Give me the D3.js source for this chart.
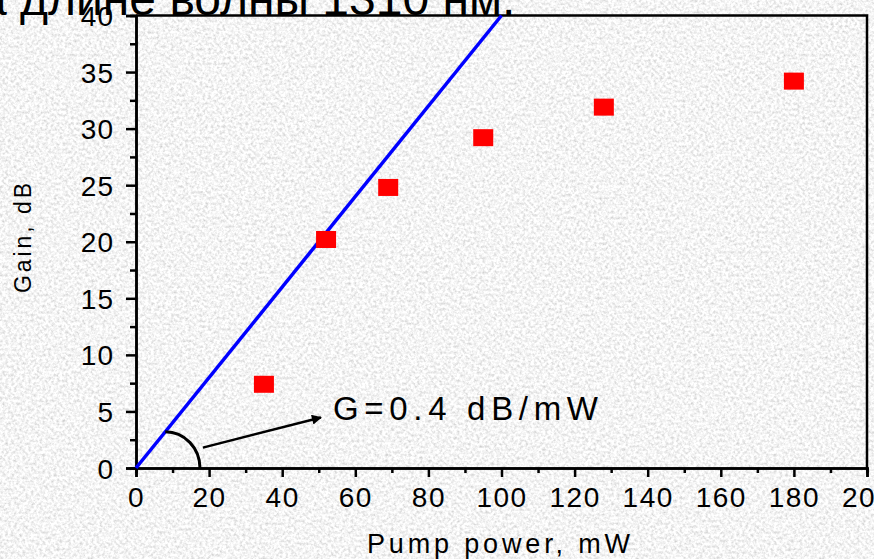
<!DOCTYPE html>
<html>
<head>
<meta charset="utf-8">
<script src="https://cdn.jsdelivr.net/npm/d3@7"></script>
<style>
  html, body { margin: 0; padding: 0; overflow: hidden; }
  svg { display: block; font-family: "Liberation Sans", Arial, sans-serif; }
</style>
</head>
<body>
<div id="js-svg-container"></div>
<script>
// measured points (pump power in mW, gain in dB)
let pumpPower = [35, 52, 69, 95, 128, 180];
let gain = [7.4, 20.2, 24.8, 29.2, 31.9, 34.2];

// linear fit G = 0.4 dB/mW
let fitPower = [0, 100];
let fitGain = [0, 40];

let xMajorTicks = [0, 20, 40, 60, 80, 100, 120, 140, 160, 180, 200];
let xMinorTicks = [10, 30, 50, 70, 90, 110, 130, 150, 170, 190];
let yMajorTicks = [0, 5, 10, 15, 20, 25, 30, 35, 40];
let yMinorTicks = [2.5, 7.5, 12.5, 17.5, 22.5, 27.5, 32.5, 37.5];

let titleText = 'а длине волны 1310 нм.';
let xLabel = 'Pump power, mW';
let yLabel = 'Gain, dB';
let slopeLabel = 'G=0.4 dB/mW';

document.addEventListener('DOMContentLoaded', function() {

    let width = 874, height = 559;
    let margin = { top: 15.5, bottom: 91, left: 136, right: 7 };

    let svg = d3.select('#js-svg-container')
        .append('svg')
        .attr('width', width)
        .attr('height', height);

    // paper-like grey background
    let defs = svg.append('defs');
    let f = defs.append('filter')
        .attr('id', 'paper')
        .attr('x', 0).attr('y', 0)
        .attr('width', '100%').attr('height', '100%');
    f.append('feTurbulence')
        .attr('type', 'fractalNoise')
        .attr('baseFrequency', '0.35')
        .attr('numOctaves', 3)
        .attr('seed', 7)
        .attr('result', 'noise');
    f.append('feColorMatrix')
        .attr('in', 'noise')
        .attr('type', 'matrix')
        .attr('values', '0.7 0 0 0 0.56  0.7 0 0 0 0.56  0.7 0 0 0 0.56  0 0 0 0 1');

    svg.append('rect')
        .attr('width', width).attr('height', height)
        .attr('fill', '#e6e6e6');
    svg.append('rect')
        .attr('width', width).attr('height', height)
        .attr('filter', 'url(#paper)');

    defs.append('marker')
        .attr('id', 'arrow')
        .attr('viewBox', '0 0 10 10')
        .attr('refX', 9).attr('refY', 5)
        .attr('markerWidth', 6).attr('markerHeight', 4)
        .attr('markerUnits', 'strokeWidth')
        .attr('orient', 'auto')
        .append('path')
        .attr('d', 'M0,0 L10,5 L0,10 Z')
        .attr('fill', '#000');

    let x = d3.scaleLinear()
        .domain([0, 200])
        .range([margin.left, width - margin.right]);

    let y = d3.scaleLinear()
        .domain([0, 40])
        .range([height - margin.bottom, margin.top]);

    // title line cut at the top of the picture
    svg.append('text')
        .attr('x', -20)
        .attr('y', 15)
        .style('font-size', '48px')
        .attr('fill', '#000')
        .text(titleText);

    // frame top and right
    svg.append('path')
        .attr('d', 'M' + x(0) + ',' + y(40) + 'H' + x(200) + 'V' + y(0))
        .attr('fill', 'none')
        .attr('stroke', '#000')
        .attr('stroke-width', 2.5);

    // x axis
    let axisXMinor = svg.append('g')
        .attr('transform', 'translate(0,' + y(0) + ')')
        .call(d3.axisBottom(x).tickValues(xMinorTicks).tickSize(5).tickFormat(''));
    let axisX = svg.append('g')
        .attr('transform', 'translate(0,' + y(0) + ')')
        .call(d3.axisBottom(x).tickValues(xMajorTicks).tickSize(9).tickPadding(0));
    axisX.selectAll('text')
        .attr('y', 39).attr('dy', 0)
        .style('font-size', '28px')
        .style('letter-spacing', '1.5px');

    // y axis
    let axisYMinor = svg.append('g')
        .attr('transform', 'translate(' + x(0) + ',0)')
        .call(d3.axisLeft(y).tickValues(yMinorTicks).tickSize(6).tickFormat(''));
    let axisY = svg.append('g')
        .attr('transform', 'translate(' + x(0) + ',0)')
        .call(d3.axisLeft(y).tickValues(yMajorTicks).tickSize(10));
    axisY.selectAll('text')
        .attr('x', -22).attr('dy', '0.36em')
        .style('font-size', '28px')
        .style('letter-spacing', '1px');

    svg.selectAll('.domain, .tick line')
        .attr('stroke', '#000')
        .attr('stroke-width', 2.5);
    svg.selectAll('.tick text').attr('fill', '#000').attr('font-family', null);

    // axis titles
    svg.append('text')
        .attr('x', 367).attr('y', 553)
        .attr('textLength', 263)
        .attr('lengthAdjust', 'spacing')
        .style('font-size', '27px')
        .text(xLabel);

    svg.append('text')
        .attr('transform', 'translate(31,293) rotate(-90)')
        .attr('textLength', 110)
        .attr('lengthAdjust', 'spacing')
        .style('font-size', '23px')
        .text(yLabel);

    // fit line
    let fit = fitPower.map((p, i) => [p, fitGain[i]]);
    svg.append('path')
        .datum(fit)
        .attr('d', d3.line().x(d => x(d[0])).y(d => y(d[1])))
        .attr('fill', 'none')
        .attr('stroke', '#0000ff')
        .attr('stroke-width', 3.5);

    // data points
    let pts = pumpPower.map((p, i) => ({ p: p, g: gain[i] }));
    svg.selectAll('rect.pt')
        .data(pts)
        .enter()
        .append('rect')
        .attr('class', 'pt')
        .attr('x', d => x(d.p) - 10)
        .attr('y', d => y(d.g) - 8.5)
        .attr('width', 20)
        .attr('height', 17)
        .attr('fill', '#ff0000');

    // angle arc and arrow
    let arcX0 = 8, arcY0 = 3.2, arcX1 = 17.5;
    svg.append('path')
        .attr('d', 'M' + x(arcX0) + ',' + y(arcY0) +
            ' A' + (x(arcX1) - x(arcX0)) + ',' + (y(0) - y(arcY0)) + ' 0 0 1 ' + x(arcX1) + ',' + y(0))
        .attr('fill', 'none')
        .attr('stroke', '#000')
        .attr('stroke-width', 3);

    svg.append('line')
        .attr('x1', x(18.3)).attr('y1', y(1.8))
        .attr('x2', x(50.6)).attr('y2', y(4.47))
        .attr('stroke', '#000')
        .attr('stroke-width', 2.5)
        .attr('marker-end', 'url(#arrow)');

    svg.append('text')
        .attr('x', x(53.9)).attr('y', y(4.27))
        .attr('textLength', 265)
        .attr('lengthAdjust', 'spacing')
        .style('font-size', '33px')
        .text(slopeLabel);
});
</script>
</body>
</html>
